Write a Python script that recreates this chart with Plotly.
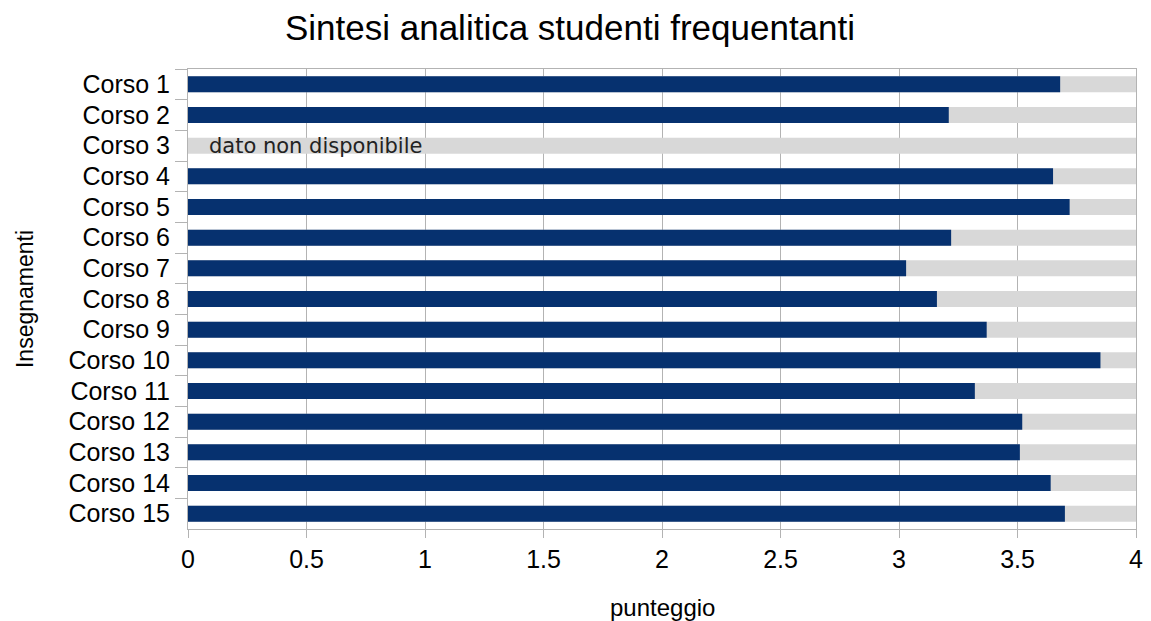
import plotly.graph_objects as go

corsi = ["Corso 1", "Corso 2", "Corso 3", "Corso 4", "Corso 5", "Corso 6", "Corso 7", "Corso 8",
         "Corso 9", "Corso 10", "Corso 11", "Corso 12", "Corso 13", "Corso 14", "Corso 15"]
punteggi = [3.68, 3.21, None, 3.65, 3.72, 3.22, 3.03, 3.16,
            3.37, 3.85, 3.32, 3.52, 3.51, 3.64, 3.70]
scala = [4, 4, 4, 4, 4, 4, 4, 4, 4, 4, 4, 4, 4, 4, 4]
nota_corso = "Corso 3"
nota_testo = "dato non disponibile"

font_base = "Liberation Sans, Arial, sans-serif"
blu = "#06316f"
grigio = "#d8d8d8"
griglia = "#b3b3b3"

fig = go.Figure()

# sfondo grigio fino al massimo della scala
fig.add_trace(go.Bar(
    y=corsi,
    x=scala,
    orientation="h",
    marker=dict(color=grigio, line=dict(width=0)),
    hoverinfo="skip",
    showlegend=False
))

fig.add_trace(go.Bar(
    y=corsi,
    x=punteggi,
    orientation="h",
    marker=dict(color=blu, line=dict(width=0)),
    hovertemplate="%{y}: %{x:.2f}<extra></extra>",
    showlegend=False
))

fig.add_annotation(
    x=0.08, y=nota_corso, xref="x", yref="y",
    text=nota_testo, showarrow=False,
    xanchor="left", yanchor="middle",
    font=dict(family="DejaVu Sans", size=21, color="#222222")
)

# titolo asse x come annotazione, per controllarne la posizione
fig.add_annotation(
    x=0.5, y=-0.1696, xref="paper", yref="paper",
    text="punteggio", showarrow=False,
    xanchor="center", yanchor="middle",
    font=dict(size=24, color="black", family=font_base)
)

# Habillage (la pagina ha 8px di margine nel body)
fig.update_layout(
    barmode="overlay",
    bargap=0.48,
    width=1143,
    height=613,
    plot_bgcolor="white",
    paper_bgcolor="white",
    margin=dict(t=61, b=92, l=180, r=15, autoexpand=False),
    font=dict(family=font_base, color="black"),
    title=dict(
        text="Sintesi analitica studenti frequentanti",
        x=0.4917, xref="container", xanchor="center",
        y=1 - 20 / 613, yref="container", yanchor="middle",
        font=dict(size=35, color="black", family=font_base)
    ),
    xaxis=dict(
        range=[0, 4],
        dtick=0.5,
        tick0=0,
        automargin=False,
        showgrid=True,
        gridcolor=griglia,
        gridwidth=1,
        zeroline=False,
        showline=True,
        linecolor=griglia,
        linewidth=1,
        mirror=True,
        ticks="outside",
        ticklen=8,
        tickcolor=griglia,
        tickfont=dict(size=25, color="black")
    ),
    yaxis=dict(
        autorange="reversed",
        automargin=False,
        showgrid=False,
        showline=True,
        linecolor=griglia,
        linewidth=1,
        mirror=True,
        ticks="outside",
        tickson="boundaries",
        ticklen=12,
        tickcolor=griglia,
        ticklabelstandoff=12,
        tickfont=dict(size=25, color="black"),
        title=dict(text="Insegnamenti", font=dict(size=23, color="black"), standoff=28)
    )
)

fig.write_html("out.html")
